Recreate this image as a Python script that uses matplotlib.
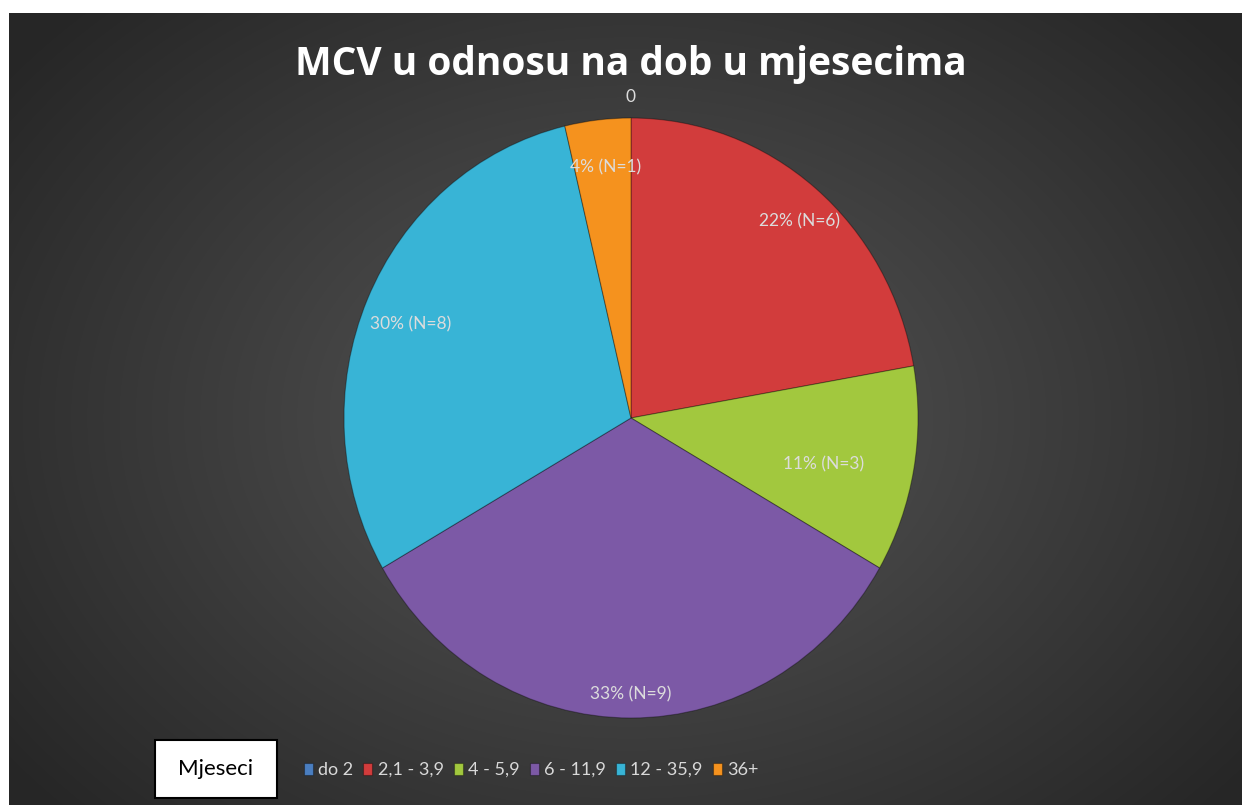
import numpy as np
import matplotlib
matplotlib.use("Agg")
import matplotlib.pyplot as plt
from matplotlib.patches import Rectangle

# data
categories = ["do 2", "2,1 - 3,9", "4 - 5,9", "6 - 11,9", "12 - 35,9", "36+"]
counts = [0, 6, 3, 9, 8, 1]
colors = ["#4a7ec0", "#d23c3c", "#a2c83e", "#7c59a6", "#38b4d6", "#f5921e"]
title = "MCV u odnosu na dob u mjesecima"
box_text = "Mjeseci"

# where Excel put the labels (angle in degrees, radius fraction)
label_pos = [(90, 1.07), (48, 0.88), (-13, 0.69), (-90, 0.92), (158, 0.83), (96, 0.84)]

plt.rcParams['font.family'] = ['Lato', 'DejaVu Sans']

W, H = 1242, 805
fig = plt.figure(figsize=(W / 100, H / 100), dpi=100)
fig.patch.set_facecolor("white")

# dark radial background
bg = fig.add_axes([9 / W, 0, 1 - 9 / W, 792 / H])
bg.set_axis_off()
yy, xx = np.mgrid[0:792, 0:1233]
cx, cy = 622, 405
d = np.sqrt(((xx - cx) / 700.0) ** 2 + ((yy - cy) / 520.0) ** 2)
shade = np.clip(0.34 - 0.17 * d, 0.15, 0.34)
bg.imshow(np.dstack([shade, shade, shade]), aspect="auto", interpolation="bilinear")

# pie
rx, ry = 287, 300
pcx, pcy = 631, 418
ax = fig.add_axes([(pcx - rx) / W, (H - pcy - ry) / H, 2 * rx / W, 2 * ry / H])
ax.set_axis_off()
wedges, _ = ax.pie(counts, colors=colors, startangle=90, counterclock=False,
                   wedgeprops=dict(edgecolor="#00000055", linewidth=0.8))
ax.set_aspect("auto")
ax.set_xlim(-1, 1)
ax.set_ylim(-1, 1)

total = sum(counts)
for n, (ang, r) in zip(counts, label_pos):
    if n == 0:
        txt = "0"
    else:
        txt = f"{round(100 * n / total)}% (N={n})"
    a = np.radians(ang)
    ax.text(r * np.cos(a), r * np.sin(a), txt, ha="center", va="center",
            color="#dcdcdc", fontsize=12.5)

fig.text(pcx / W, 1 - 64 / H, title, ha="center", va="center",
         color="white", fontsize=28, fontweight="bold", family=["Open Sans", "DejaVu Sans"])

leg = fig.legend(wedges, categories, loc="center", bbox_to_anchor=(531 / W, 1 - 770 / H),
                 ncol=6, frameon=False, fontsize=13, handlelength=0.5, handleheight=0.65,
                 handletextpad=0.3, columnspacing=0.55, labelcolor="#d9d9d9")

fig.add_artist(Rectangle((155 / W, 1 - 798 / H), 122 / W, 58 / H, transform=fig.transFigure,
                         facecolor="white", edgecolor="black", linewidth=1.5))
fig.text(216 / W, 1 - 769 / H, box_text, ha="center", va="center", color="black", fontsize=16)

fig.savefig("out.png", dpi=100)
